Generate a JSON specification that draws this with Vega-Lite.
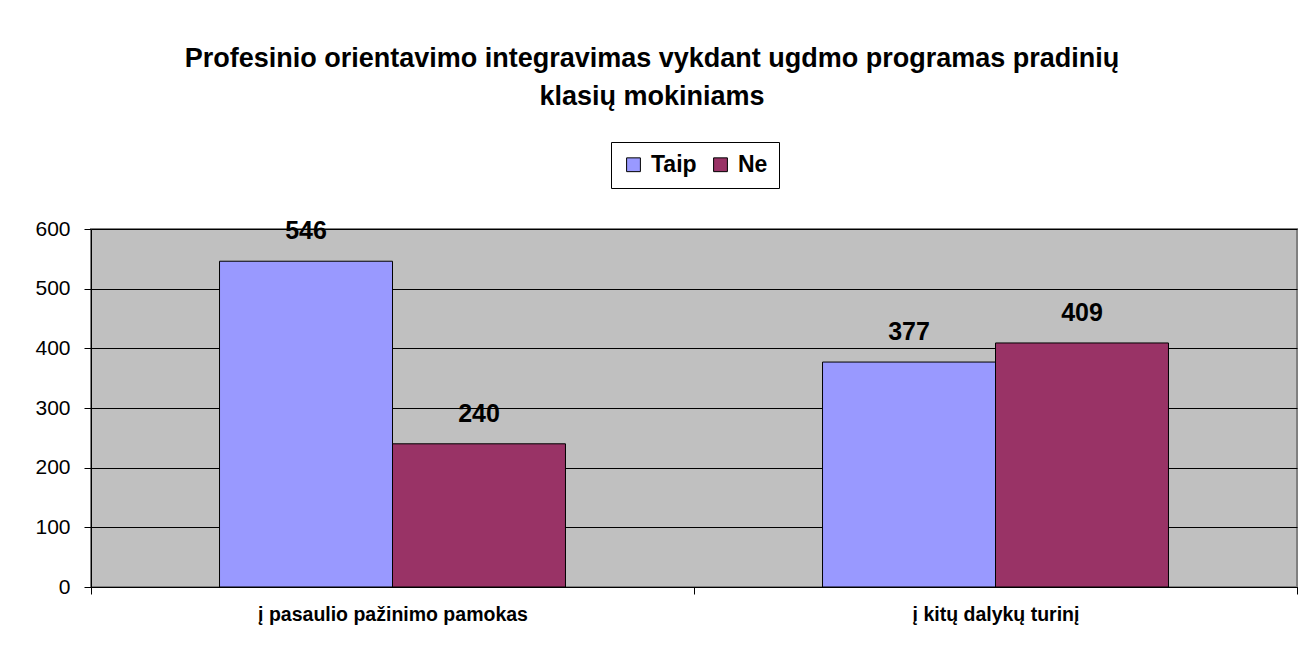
{
  "$schema": "https://vega.github.io/schema/vega-lite/v6.json",
  "autosize": "none",
  "width": 1206,
  "height": 358,
  "padding": {"left": 91, "top": 229, "right": 11, "bottom": 72},
  "background": "white",
  "title": {
    "text": ["Profesinio orientavimo integravimas vykdant ugdmo programas pradinių", "klasių mokiniams"],
    "font": "Liberation Sans",
    "fontSize": 27,
    "fontWeight": "bold",
    "color": "black",
    "lineHeight": 38,
    "anchor": "middle",
    "frame": "group",
    "dx": -42,
    "offset": 31
  },
  "data": {
    "values": [
      {"kategorija": "į pasaulio pažinimo pamokas", "atsakymas": "Taip", "reiksme": 546},
      {"kategorija": "į pasaulio pažinimo pamokas", "atsakymas": "Ne", "reiksme": 240},
      {"kategorija": "į kitų dalykų turinį", "atsakymas": "Taip", "reiksme": 377},
      {"kategorija": "į kitų dalykų turinį", "atsakymas": "Ne", "reiksme": 409}
    ]
  },
  "encoding": {
    "x": {
      "field": "kategorija",
      "type": "nominal",
      "sort": ["į pasaulio pažinimo pamokas", "į kitų dalykų turinį"],
      "scale": {"paddingInner": 0, "paddingOuter": 0},
      "axis": {
        "title": null,
        "labelAngle": 0,
        "tickBand": "extent",
        "tickSize": 7,
        "tickColor": "black",
        "domainColor": "black",
        "labelFont": "Liberation Sans",
        "labelFontSize": 19.5,
        "labelFontWeight": "bold",
        "labelColor": "black",
        "labelPadding": 11,
        "labelLimit": 600
      }
    },
    "xOffset": {
      "field": "atsakymas",
      "type": "nominal",
      "sort": ["Taip", "Ne"],
      "scale": {"paddingInner": 0, "paddingOuter": 0.743}
    },
    "y": {
      "field": "reiksme",
      "type": "quantitative",
      "scale": {"domain": [0, 600], "nice": false},
      "axis": {
        "title": null,
        "values": [0, 100, 200, 300, 400, 500, 600],
        "grid": true,
        "gridColor": "black",
        "gridWidth": 1,
        "gridOpacity": 1,
        "tickSize": 7,
        "tickColor": "black",
        "domainColor": "black",
        "labelFont": "Liberation Sans",
        "labelFontSize": 21,
        "labelColor": "black",
        "labelPadding": 14
      }
    }
  },
  "layer": [
    {
      "mark": {"type": "bar", "stroke": "black", "strokeWidth": 1},
      "encoding": {
        "color": {
          "field": "atsakymas",
          "type": "nominal",
          "sort": ["Taip", "Ne"],
          "scale": {"domain": ["Taip", "Ne"], "range": ["#9999FF", "#993366"]},
          "legend": {
            "title": null,
            "orient": "none",
            "direction": "horizontal",
            "legendX": 520,
            "legendY": -87,
            "symbolType": "square",
            "symbolSize": 190,
            "symbolStrokeColor": "black",
            "symbolStrokeWidth": 1,
            "symbolOpacity": 1,
            "labelFont": "Liberation Sans",
            "labelFontSize": 23,
            "labelFontWeight": "bold",
            "labelColor": "black",
            "labelOffset": 6,
            "columnPadding": 12,
            "strokeColor": "black",
            "padding": 11,
            "fillColor": "white"
          }
        }
      }
    },
    {
      "mark": {
        "type": "text",
        "font": "Liberation Sans",
        "fontSize": 25,
        "fontWeight": "bold",
        "color": "black",
        "baseline": "middle",
        "dy": -30
      },
      "encoding": {
        "text": {"field": "reiksme", "type": "quantitative"}
      }
    }
  ],
  "config": {
    "view": {"fill": "#C0C0C0", "stroke": "#808080", "strokeWidth": 2},
    "axis": {"gridDash": [], "domainWidth": 1, "tickWidth": 1}
  }
}
